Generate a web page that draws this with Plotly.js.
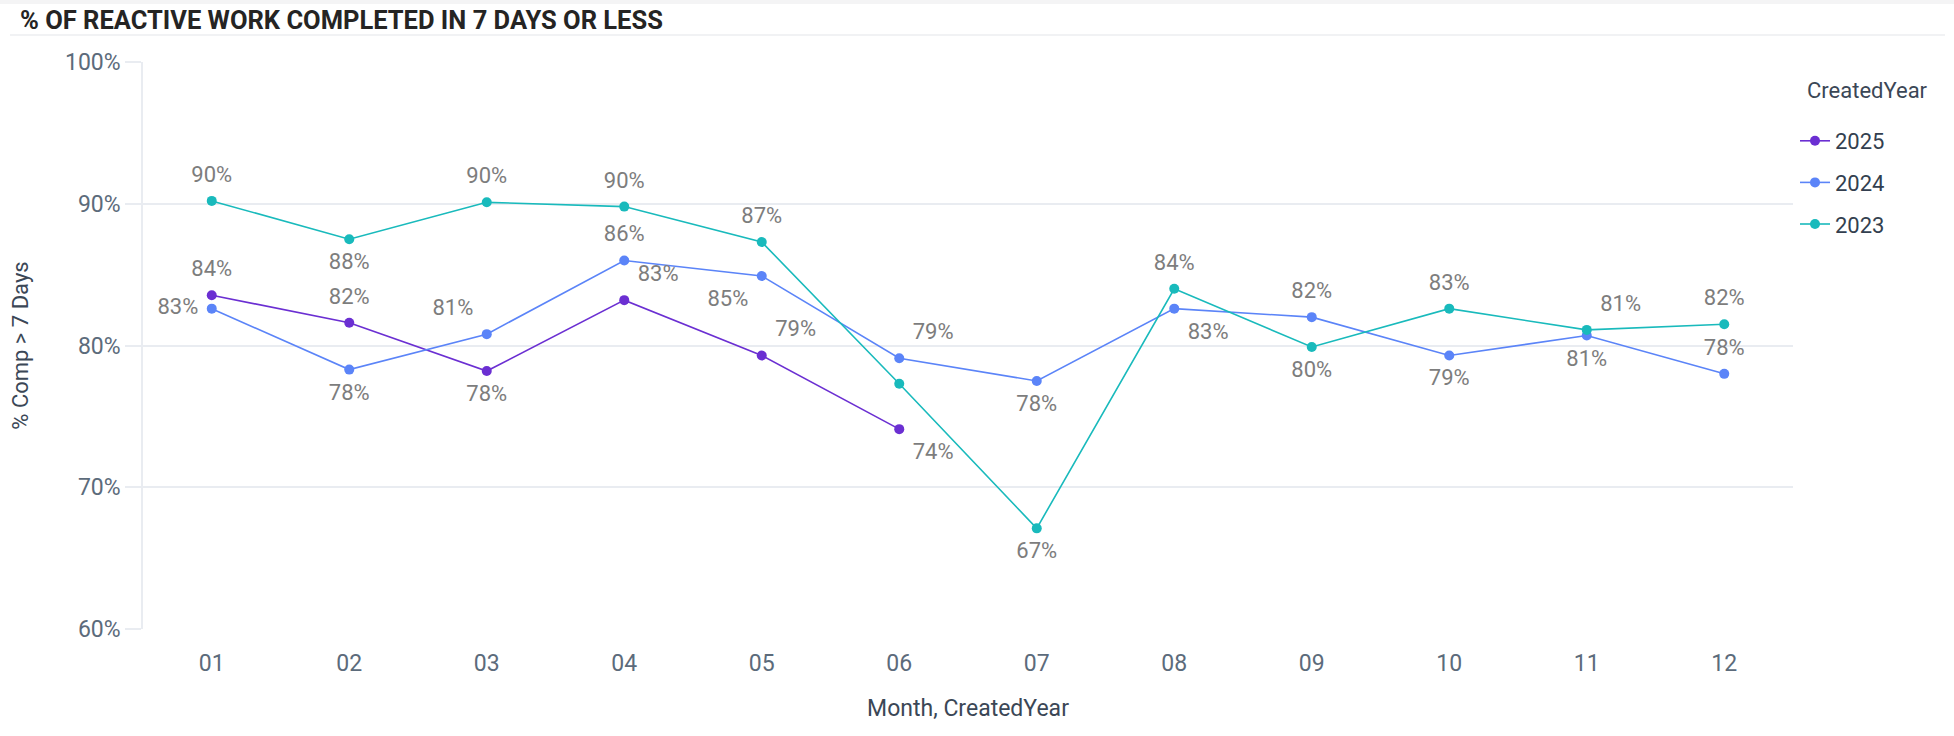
<html lang="en">
  <head>
    <meta charset="UTF-8" />
    <title>Reactive work</title>
    <script src="https://cdn.plot.ly/plotly-3.0.1.min.js"></script>
    <style>
      body { margin: 0; background: #fff; }
    </style>
  </head>
  <body>
    <div id="chart" style="width: 1954px; height: 736px"></div>
    <script>
      // months on the x axis
      const months = ["01", "02", "03", "04", "05", "06", "07", "08", "09", "10", "11", "12"];

      // % completed
      const pct2025 = [83.55, 81.6, 78.2, 83.2, 79.3, 74.1];
      const pct2024 = [82.6, 78.3, 80.8, 86.0, 84.9, 79.1, 77.5, 82.6, 82.0, 79.3, 80.7, 78.0];
      const pct2023 = [90.2, 87.5, 90.1, 89.8, 87.3, 77.3, 67.1, 84.0, 79.9, 82.6, 81.1, 81.5];

      // where each data label sits (null = label hidden)
      const pos2025 = ["top center", "top center", "bottom center", "top right", "top right", "bottom right"];
      const pos2024 = ["middle left", "bottom center", "top left", "top center", "bottom left", "top right",
        "bottom center", "bottom right", "top center", "bottom center", "bottom center", "top center"];
      const pos2023 = ["top center", "bottom center", "top center", "top center", "top center", null,
        "bottom center", "top center", "bottom center", "top center", "top right", "top center"];

      const W = 1954, H = 736;
      const L = 143, R = 1793, T = 62, B = 629;
      const px = (x) => (x - L) / (R - L);
      const py = (y) => (B - y) / (B - T);

      function series(name, vals, color) {
        return {
          type: "scatter",
          mode: "lines+markers",
          name: name,
          legendgroup: name,
          x: months.slice(0, vals.length),
          y: vals.map((v) => v / 100),
          line: { color: color, width: 1.6 },
          marker: { color: color, size: 10 },
          cliponaxis: false,
          hoverinfo: "x+y+name",
        };
      }

      // labels ride on a clear, larger marker so they sit a bit off the dots
      function labels(name, vals, pos) {
        return {
          type: "scatter",
          mode: "markers+text",
          name: name,
          legendgroup: name,
          showlegend: false,
          x: months.slice(0, vals.length),
          y: vals.map((v) => v / 100),
          text: vals.map((v, i) => (pos[i] ? Math.round(v) + "%" : "")),
          textposition: pos.map((p) => p || "top center"),
          textfont: { family: "Roboto", size: 22, color: "#7d7d7d" },
          marker: { size: 20, opacity: 0 },
          cliponaxis: false,
          hoverinfo: "skip",
        };
      }

      const data = [
        series("2025", pct2025, "#6b2fd2"),
        series("2024", pct2024, "#5b84f8"),
        series("2023", pct2023, "#19babc"),
        labels("2025", pct2025, pos2025),
        labels("2024", pct2024, pos2024),
        labels("2023", pct2023, pos2023),
      ];

      const layout = {
        width: W,
        height: H,
        margin: { l: L, r: W - R, t: T, b: H - B },
        paper_bgcolor: "#ffffff",
        plot_bgcolor: "#ffffff",
        font: { family: "Roboto", color: "#5c6b7b" },
        title: {
          text: "<b>% OF REACTIVE WORK COMPLETED IN 7 DAYS OR LESS</b>",
          font: { family: "Roboto", size: 25.5, color: "#252423" },
          xref: "container",
          yref: "container",
          x: 20 / W,
          xanchor: "left",
          y: 1 - 20 / H,
          yanchor: "middle",
        },
        xaxis: {
          type: "category",
          range: [-0.5, 11.5],
          showgrid: false,
          showline: false,
          zeroline: false,
          ticks: "",
          tickfont: { family: "Roboto", size: 23, color: "#5c6b7b" },
          ticklabelstandoff: 18,
          title: {
            text: "Month, CreatedYear",
            font: { family: "Roboto", size: 23, color: "#3b4756" },
            standoff: 23,
          },
        },
        yaxis: {
          range: [0.6, 1.0],
          tickvals: [0.6, 0.7, 0.8, 0.9, 1.0],
          tickformat: ".0%",
          showgrid: true,
          gridcolor: "#e9ecf1",
          gridwidth: 1.5,
          showline: true,
          linecolor: "#e9ecf1",
          linewidth: 1.5,
          zeroline: false,
          ticks: "outside",
          ticklen: 16,
          tickcolor: "#e9ecf1",
          tickwidth: 1.5,
          tickfont: { family: "Roboto", size: 23, color: "#5c6b7b" },
          title: {
            text: "% Comp > 7 Days",
            font: { family: "Roboto", size: 22, color: "#3b4756" },
            standoff: 30,
          },
        },
        legend: {
          x: px(1795),
          xanchor: "left",
          y: py(120),
          yanchor: "top",
          font: { family: "Roboto", size: 22, color: "#333f4f" },
          traceorder: "grouped",
          tracegroupgap: 10,
          itemwidth: 30,
        },
        annotations: [
          { text: "CreatedYear", xref: "paper", yref: "paper", x: px(1805), y: py(90),
            xanchor: "left", yanchor: "middle", showarrow: false,
            font: { family: "Roboto", size: 22, color: "#3b4756" } },
        ],
        shapes: [
          { type: "rect", xref: "paper", yref: "paper", x0: px(0), x1: px(W), y0: py(0), y1: py(4),
            fillcolor: "#f4f4f5", line: { width: 0 }, layer: "below" },
          { type: "line", xref: "paper", yref: "paper", x0: px(10), x1: px(1945), y0: py(35), y1: py(35),
            line: { color: "#eceef1", width: 1.5 } },
        ],
        showlegend: true,
      };

      Plotly.newPlot("chart", data, layout, { displayModeBar: false, responsive: false });
    </script>
  </body>
</html>
